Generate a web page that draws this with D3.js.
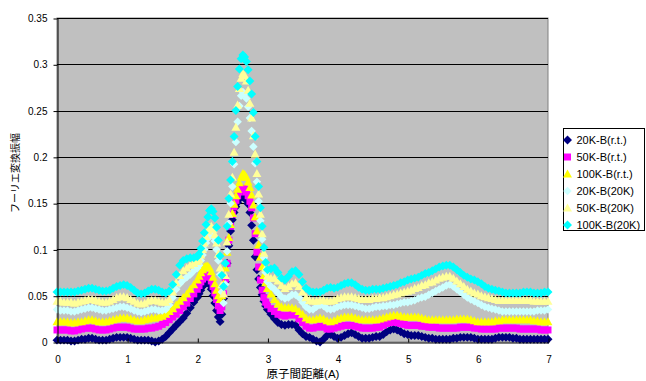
<!DOCTYPE html>
<html>
<head>
<meta charset="utf-8">
<script src="https://cdn.jsdelivr.net/npm/d3@7"></script>
<style>
  body { margin: 0; background: #fff; }
  svg { display: block; }
</style>
</head>
<body>
<div id="chart"></div>
<script>
// sample positions (A): 0.05 steps, 0.025 steps through the two peaks, then 0.05 again
const distance = [].concat(
    d3.range(0, 40).map(i => i * 0.05),
    d3.range(0, 41).map(i => 2 + i * 0.025),
    d3.range(1, 81).map(i => 3 + i * 0.05)
)

const amp20rt = [
    .002,.002,.002,.002,.001,.001,.002,.003,.003,.004, .004,.003,.002,.002,.002,.003,.004,.005,.005,.005,
    .005,.004,.003,.002,.002,.002,.002,.001,.000,.001, .003,.006,.010,.014,.018,.022,.026,.031,.037,.043,
    .048,.052,.056,.060,.062,.064,.064,.062,.057,.050, .042,.034,.027,.022,.030,.047,.065,.085,.104,.120,
    .132,.140,.146,.151,.155,.157,.157,.156,.153,.149, .140,.126,.110,.092,.078,.068,.059,.051,.044,.039, .035,
    .030,.025,.021,.019,.018,.019,.019,.018,.013,.009, .006,.005,.003,.001,.000,.003,.007,.008,.006,.004,
    .005,.007,.009,.010,.008,.006,.004,.004,.004,.005, .006,.006,.008,.011,.013,.014,.013,.011,.009,.008,
    .007,.007,.007,.006,.005,.004,.004,.003,.003,.003, .003,.003,.004,.004,.005,.005,.005,.005,.004,.003,
    .003,.003,.003,.003,.004,.005,.005,.005,.005,.004, .004,.003,.003,.003,.003,.003,.003,.003,.003,.003
]
const amp50rt = [
    .013,.013,.013,.013,.012,.012,.013,.014,.015,.015, .015,.014,.013,.013,.013,.014,.015,.016,.016,.016,
    .016,.015,.014,.014,.014,.014,.015,.015,.016,.017, .019,.021,.024,.027,.030,.034,.038,.042,.047,.052,
    .057,.061,.065,.068,.071,.072,.072,.070,.066,.060, .053,.046,.039,.034,.038,.052,.068,.085,.110,.125,
    .138,.146,.153,.158,.162,.165,.166,.165,.162,.158, .152,.145,.134,.117,.097,.081,.067,.056,.048,.043, .040,
    .036,.033,.030,.029,.028,.029,.030,.029,.025,.021, .017,.015,.015,.016,.017,.016,.014,.014,.015,.016,
    .017,.018,.018,.018,.017,.016,.015,.015,.015,.015, .016,.016,.018,.020,.021,.022,.021,.020,.019,.018,
    .018,.018,.018,.017,.017,.016,.016,.016,.015,.015, .015,.015,.015,.015,.016,.016,.016,.016,.015,.015,
    .014,.014,.014,.014,.014,.015,.015,.015,.015,.015, .015,.014,.014,.014,.014,.014,.014,.013,.013,.013
]
const amp100rt = [
    .022,.022,.022,.022,.021,.021,.022,.022,.023,.024, .024,.023,.022,.022,.022,.023,.024,.025,.026,.026,
    .026,.025,.024,.023,.023,.024,.025,.026,.026,.027, .028,.030,.033,.036,.040,.044,.048,.052,.057,.062,
    .067,.071,.075,.078,.081,.082,.082,.080,.076,.070, .063,.056,.050,.046,.050,.063,.080,.097,.113,.127,
    .139,.149,.158,.165,.172,.178,.182,.181,.178,.173, .167,.159,.148,.135,.120,.105,.092,.081,.072,.064, .058,
    .052,.046,.041,.038,.037,.037,.037,.036,.033,.030, .026,.024,.024,.025,.026,.025,.023,.022,.023,.025,
    .026,.027,.027,.027,.026,.025,.024,.024,.024,.024, .024,.025,.026,.027,.028,.029,.029,.028,.027,.027,
    .027,.027,.027,.026,.025,.024,.024,.024,.024,.024, .024,.024,.024,.025,.025,.025,.025,.024,.023,.022,
    .022,.022,.022,.022,.023,.023,.024,.024,.024,.024, .024,.024,.024,.024,.024,.023,.023,.022,.022,.022
]
const amp20k = [
    .035,.034,.034,.034,.033,.033,.034,.035,.036,.037, .037,.036,.035,.034,.034,.035,.036,.037,.038,.038,
    .037,.036,.034,.033,.032,.033,.034,.035,.035,.034, .034,.035,.040,.048,.057,.063,.067,.070,.073,.077,
    .080,.083,.088,.094,.100,.107,.112,.116,.118,.115, .109,.100,.088,.073,.054,.042,.062,.098,.128,.150,
    .168,.192,.216,.238,.255,.266,.270,.268,.263,.254, .242,.228,.211,.193,.173,.152,.131,.111,.091,.075, .065,
    .060,.057,.053,.049,.047,.048,.051,.051,.048,.043, .038,.035,.035,.038,.040,.039,.036,.035,.036,.038,
    .039,.040,.040,.040,.039,.038,.037,.036,.036,.037, .038,.038,.039,.039,.040,.040,.041,.042,.043,.043,
    .044,.045,.047,.048,.049,.051,.053,.055,.057,.059, .061,.062,.060,.057,.054,.051,.048,.046,.044,.042,
    .040,.038,.037,.036,.035,.034,.033,.033,.033,.033, .033,.033,.033,.033,.033,.033,.034,.034,.034,.035
]
const amp50k = [
    .044,.044,.043,.043,.043,.042,.043,.044,.045,.046, .046,.045,.044,.043,.043,.044,.046,.048,.049,.049,
    .048,.046,.044,.042,.041,.042,.044,.045,.045,.044, .043,.043,.046,.054,.064,.072,.077,.080,.083,.085,
    .087,.089,.094,.100,.107,.114,.120,.124,.125,.122, .116,.107,.095,.080,.062,.052,.072,.108,.138,.160,
    .178,.205,.232,.256,.274,.285,.290,.288,.282,.272, .258,.242,.223,.203,.182,.160,.138,.117,.096,.080, .071,
    .069,.069,.066,.061,.058,.060,.063,.064,.060,.054, .048,.045,.044,.044,.045,.045,.044,.044,.045,.047,
    .048,.049,.049,.049,.048,.047,.046,.046,.046,.047, .047,.048,.048,.049,.050,.051,.052,.053,.054,.055,
    .056,.058,.059,.061,.062,.064,.065,.067,.069,.070, .071,.071,.069,.066,.063,.060,.057,.055,.053,.052,
    .050,.049,.048,.047,.046,.045,.045,.045,.045,.045, .045,.045,.045,.045,.045,.044,.044,.044,.044,.044
]
const amp100k = [
    .054,.054,.054,.054,.054,.054,.055,.056,.057,.058, .058,.057,.056,.055,.055,.056,.058,.060,.061,.062,
    .061,.059,.056,.053,.052,.053,.055,.057,.057,.056, .054,.053,.055,.062,.073,.083,.088,.090,.091,.091,
    .092,.095,.101,.109,.118,.127,.135,.142,.144,.141, .134,.124,.110,.093,.072,.060,.085,.125,.155,.175,
    .195,.222,.250,.276,.295,.306,.310,.308,.303,.294, .282,.268,.248,.222,.195,.168,.145,.125,.102,.086, .078,
    .079,.080,.075,.069,.067,.071,.076,.077,.073,.065, .058,.055,.054,.054,.054,.056,.058,.059,.058,.059,
    .061,.063,.064,.064,.062,.059,.057,.056,.056,.057, .057,.057,.058,.059,.060,.061,.062,.064,.065,.067,
    .068,.069,.070,.072,.074,.075,.077,.079,.081,.082, .083,.083,.081,.078,.075,.072,.070,.068,.067,.065,
    .063,.060,.058,.057,.056,.055,.054,.053,.053,.053, .053,.053,.054,.054,.054,.053,.053,.053,.054,.054
]

const labels = ["20K-B(r.t.)", "50K-B(r.t.)", "100K-B(r.t.)", "20K-B(20K)", "50K-B(20K)", "100K-B(20K)"]
const colors = ["#000080", "#FF00FF", "#FFFF00", "#CCFFFF", "#FFFF99", "#00FFFF"]
const xTicks = [0, 1, 2, 3, 4, 5, 6, 7]
const yTicks = [0, 0.05, 0.1, 0.15, 0.2, 0.25, 0.3, 0.35]
const xTitle = "原子間距離(A)"
const yTitle = "フーリエ変換振幅"

// Excel-like marker shapes
const diamond = {draw(ctx, size) {
    const r = Math.sqrt(size / 2)
    ctx.moveTo(0, -r); ctx.lineTo(r, 0); ctx.lineTo(0, r); ctx.lineTo(-r, 0); ctx.closePath()
}}
const square = {draw(ctx, size) {
    const s = Math.sqrt(size) / 2
    ctx.rect(-s, -s, 2 * s, 2 * s)
}}
const triangle = {draw(ctx, size) {
    const r = Math.sqrt(size / 1.8)
    ctx.moveTo(0, -r); ctx.lineTo(r, 0.8 * r); ctx.lineTo(-r, 0.8 * r); ctx.closePath()
}}
const shapes = [[diamond, 40], [square, 49], [triangle, 36], [diamond, 36], [triangle, 36], [diamond, 40]]

const series = [amp20rt, amp50rt, amp100rt, amp20k, amp50k, amp100k].map((values, i) => ({
    label: labels[i], values, color: colors[i], type: shapes[i][0], size: shapes[i][1]
}))

const w = 646, h = 381
const plot = {left: 57, right: 548, top: 18, bottom: 342}
const numFont = "'Liberation Sans', Arial, sans-serif"
const jpFont = "'Liberation Sans', 'Noto Sans CJK JP', sans-serif"

const svg = d3.select("#chart").append("svg")
    .attr("width", w)
    .attr("height", h)

const x = d3.scaleLinear().domain([0, 7]).range([plot.left, plot.right])
const y = d3.scaleLinear().domain([0, 0.35]).range([plot.bottom, plot.top])

function drawFrame() {
    svg.append("rect")
        .attr("x", plot.left).attr("y", plot.top)
        .attr("width", plot.right - plot.left).attr("height", plot.bottom - plot.top)
        .attr("fill", "#C0C0C0")
        .attr("stroke", "#808080")

    svg.append("g").attr("class", "grid")
        .selectAll("line")
        .data(yTicks.slice(1))
        .join("line")
        .attr("x1", plot.left).attr("x2", plot.right)
        .attr("y1", d => Math.round(y(d)) + 0.5).attr("y2", d => Math.round(y(d)) + 0.5)
        .attr("stroke", "#000")
}

function drawAxes() {
    const left = svg.append("g")
        .attr("transform", `translate(${plot.left + 0.5}, 0.5)`)
        .call(d3.axisLeft(y).tickValues(yTicks).tickSize(4).tickSizeOuter(0).tickPadding(6)
            .tickFormat(d => String(+d.toFixed(2))))

    const bottom = svg.append("g")
        .attr("transform", `translate(0.5, ${plot.bottom + 0.5})`)
        .call(d3.axisBottom(x).tickValues(xTicks).tickSize(-4).tickSizeOuter(0).tickPadding(13)
            .tickFormat(d3.format("d")))

    ;[left, bottom].forEach(axis => {
        axis.select(".domain").attr("stroke", "#000")
        axis.selectAll("line").attr("stroke", "#000")
        axis.selectAll("text")
            .attr("fill", "#000")
            .style("font-family", numFont)
            .style("font-size", "10px")
    })

    svg.append("text")
        .attr("transform", "translate(19, 173) rotate(-90)")
        .attr("text-anchor", "middle")
        .style("font-family", jpFont)
        .style("font-size", "10px")
        .text(yTitle)

    svg.append("text")
        .attr("x", 303).attr("y", 378)
        .attr("text-anchor", "middle")
        .style("font-family", jpFont)
        .style("font-size", "11.5px")
        .text(xTitle)
}

function drawSeries() {
    const marks = svg.append("g").attr("class", "series")
    series.forEach(s => {
        marks.append("g")
            .selectAll("path")
            .data(s.values)
            .join("path")
            .attr("transform", (d, i) => `translate(${x(distance[i])}, ${y(d)})`)
            .attr("d", d3.symbol(s.type, s.size))
            .attr("fill", s.color)
    })
}

function drawLegend() {
    const legend = svg.append("g").attr("class", "legend")
        .attr("transform", "translate(563.5, 128.5)")

    legend.append("rect")
        .attr("width", 81).attr("height", 102)
        .attr("fill", "#fff")
        .attr("stroke", "#000")

    const rows = legend.selectAll("g.row")
        .data(series)
        .join("g")
        .attr("class", "row")
        .attr("transform", (d, i) => `translate(0, ${11.5 + i * 17})`)

    rows.append("path")
        .attr("transform", "translate(4, 0)")
        .attr("d", d => d3.symbol(d.type, d.size)())
        .attr("fill", d => d.color)

    rows.append("text")
        .attr("x", 13).attr("y", 4)
        .style("font-family", numFont)
        .style("font-size", "11px")
        .text(d => d.label)
}

drawFrame()
drawSeries()
drawAxes()
drawLegend()
</script>
</body>
</html>
